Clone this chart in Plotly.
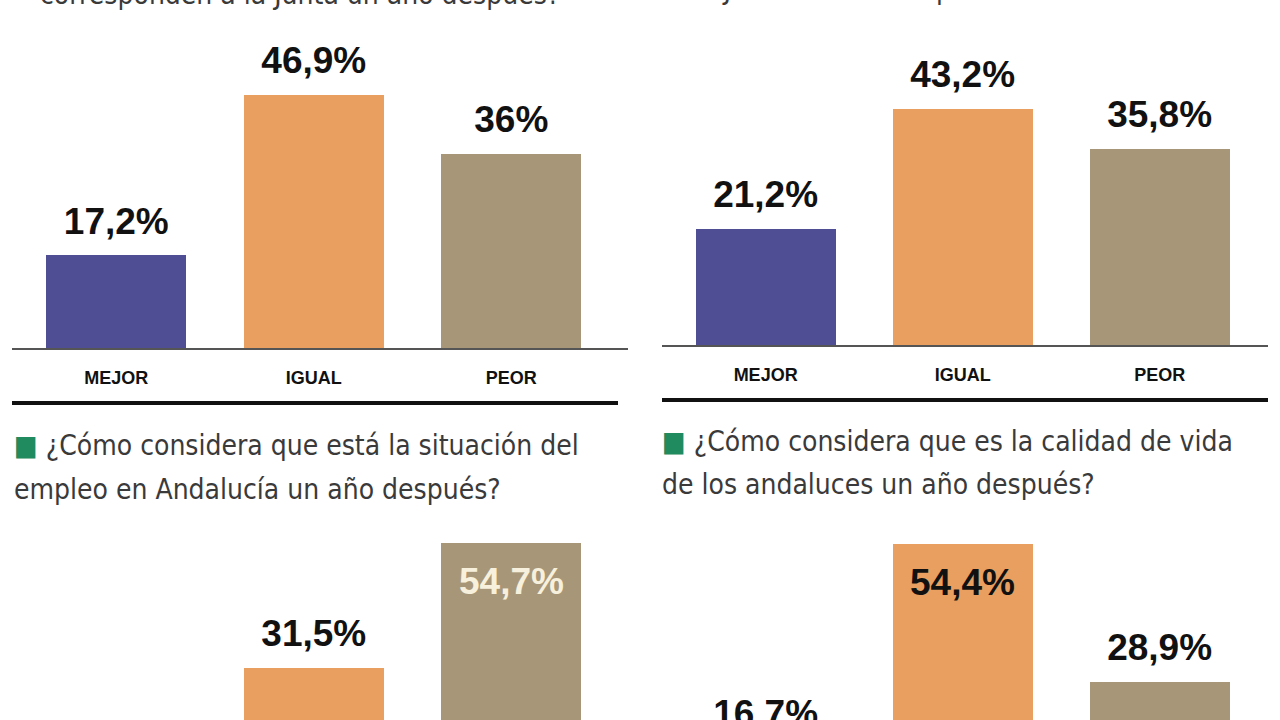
import plotly.graph_objects as go

# ---------------- data ----------------
categories = ["MEJOR", "IGUAL", "PEOR"]
values_tl = [17.2, 46.9, 36.0]     # servicios que corresponden a la Junta
values_tr = [21.2, 43.2, 35.8]
values_bl = [13.8, 31.5, 54.7]     # situación del empleo
values_br = [16.7, 54.4, 28.9]     # calidad de vida
labels_tl = ["17,2%", "46,9%", "36%"]
labels_tr = ["21,2%", "43,2%", "35,8%"]
labels_bl = ["13,8%", "31,5%", "54,7%"]
labels_br = ["16,7%", "54,4%", "28,9%"]

title_tl_tail = "corresponden a la Junta un año después?"
title_tr_tail = "a la Junta un año después?"
title_bl = ["¿Cómo considera que está la situación del", "empleo en Andalucía un año después?"]
title_br = ["¿Cómo considera que es la calidad de vida", "de los andaluces un año después?"]

# ---------------- style ----------------
W, H = 1280, 720
bar_colors = ["#4f4e94", "#e89f5f", "#a89678"]
label_pos_tl = ["out", "out", "out"]
label_pos_tr = ["out", "out", "out"]
label_pos_bl = ["out", "out", "in"]
label_pos_br = ["out", "in", "out"]
inside_colors_bl = ["#111", "#111", "#f6f0dc"]
inside_colors_br = ["#111", "#111", "#111"]

VAL_FONT = "Liberation Sans, Arial, sans-serif"
CAT_FONT = "Liberation Sans, Arial, sans-serif"
TTL_FONT = "DejaVu Sans Condensed, Liberation Sans Narrow, Arial Narrow, sans-serif"
VAL_SIZE = 37
LABEL_GAP_PX = 31          # distance from bar top to label centre
INSIDE_SHIFT_PX = -16

scale_l, scale_r, scale_br = 5.39, 5.47, 5.41   # pixels per percentage point
base_bottom = 838  # pixel row of the (off-screen) baseline of the lower charts
xr_l = [-0.528, 2.591]
xr_r = [-0.526, 2.55]


def px(x):
    return x / W


def py(y):
    return 1 - y / H


fig = go.Figure()

panels = [
    ("x", "y", values_tl, labels_tl, label_pos_tl, None, scale_l),
    ("x2", "y2", values_tr, labels_tr, label_pos_tr, None, scale_r),
    ("x3", "y3", values_bl, labels_bl, label_pos_bl, inside_colors_bl, scale_l),
    ("x4", "y4", values_br, labels_br, label_pos_br, inside_colors_br, scale_br),
]

annotations = []
for xa, ya, vals, labs, pos, inc, sc in panels:
    fig.add_trace(go.Bar(
        x=categories, y=vals, xaxis=xa, yaxis=ya,
        marker=dict(color=bar_colors, line=dict(width=0)),
        width=0.71, hoverinfo="skip", showlegend=False,
    ))
    out_idx = [i for i, p in enumerate(pos) if p == "out"]
    # labels above the bars, centred a fixed pixel gap above each bar top
    fig.add_trace(go.Scatter(
        x=[categories[i] for i in out_idx],
        y=[vals[i] + LABEL_GAP_PX / sc for i in out_idx],
        text=[labs[i] for i in out_idx], mode="text", textposition="middle center",
        textfont=dict(family=VAL_FONT, size=VAL_SIZE, color="#111111", weight="bold"),
        cliponaxis=False, xaxis=xa, yaxis=ya, hoverinfo="skip", showlegend=False,
    ))
    for i, (c, v, t, p) in enumerate(zip(categories, vals, labs, pos)):
        if p == "in":
            annotations.append(dict(
                x=c, y=v, xref=xa, yref=ya, text=t, showarrow=False,
                yanchor="top", yshift=INSIDE_SHIFT_PX,
                font=dict(family=VAL_FONT, size=VAL_SIZE, color=inc[i], weight="bold"),
            ))

# titles
TTL_SIZE = 28
TTL_COLOR = "#3a3a3a"
SQ = "<span style='color:#1f8b5e'>■</span> "
annotations += [
    dict(x=px(38), y=py(13), xref="paper", yref="paper", text=title_tl_tail,
         xanchor="left", yanchor="bottom", showarrow=False,
         font=dict(family=TTL_FONT, size=TTL_SIZE, color=TTL_COLOR)),
    dict(x=px(668), y=py(8), xref="paper", yref="paper", text=title_tr_tail,
         xanchor="left", yanchor="bottom", showarrow=False,
         font=dict(family=TTL_FONT, size=TTL_SIZE, color=TTL_COLOR)),
    dict(x=px(12), y=py(445), xref="paper", yref="paper", text=SQ + title_bl[0],
         xanchor="left", yanchor="middle", showarrow=False,
         font=dict(family=TTL_FONT, size=TTL_SIZE, color=TTL_COLOR)),
    dict(x=px(12), y=py(489), xref="paper", yref="paper", text=title_bl[1],
         xanchor="left", yanchor="middle", showarrow=False,
         font=dict(family=TTL_FONT, size=TTL_SIZE, color=TTL_COLOR)),
    dict(x=px(660), y=py(441), xref="paper", yref="paper", text=SQ + title_br[0],
         xanchor="left", yanchor="middle", showarrow=False,
         font=dict(family=TTL_FONT, size=TTL_SIZE, color=TTL_COLOR)),
    dict(x=px(660), y=py(484), xref="paper", yref="paper", text=title_br[1],
         xanchor="left", yanchor="middle", showarrow=False,
         font=dict(family=TTL_FONT, size=TTL_SIZE, color=TTL_COLOR)),
]

# separator rules
shapes = [
    dict(type="line", xref="paper", yref="paper", x0=px(12), x1=px(618), y0=py(403), y1=py(403),
         line=dict(color="#111111", width=4)),
    dict(type="line", xref="paper", yref="paper", x0=px(662), x1=px(1268), y0=py(400), y1=py(400),
         line=dict(color="#111111", width=4)),
]

cat_tick_font = dict(family=CAT_FONT, size=18, color="#111111", weight="bold")

common_x = dict(type="category", showgrid=False, zeroline=False, ticks="",
                fixedrange=True)
common_y = dict(showgrid=False, zeroline=False, showticklabels=False, ticks="",
                showline=False, fixedrange=True)

fig.update_layout(
    width=W, height=H,
    margin=dict(l=0, r=0, t=0, b=0),
    paper_bgcolor="white", plot_bgcolor="white",
    bargap=0,
    xaxis=dict(common_x, domain=[px(12), px(628)], range=xr_l, anchor="y",
               showline=True, linecolor="#555555", linewidth=2,
               tickfont=cat_tick_font, ticklabelstandoff=12),
    yaxis=dict(common_y, domain=[py(348), 1], range=[0, 348 / scale_l], anchor="x"),
    xaxis2=dict(common_x, domain=[px(662), px(1268)], range=xr_r, anchor="y2",
                showline=True, linecolor="#555555", linewidth=2,
                tickfont=cat_tick_font, ticklabelstandoff=12),
    yaxis2=dict(common_y, domain=[py(345), 1], range=[0, 345 / scale_r], anchor="x2"),
    xaxis3=dict(common_x, domain=[px(12), px(628)], range=xr_l, anchor="y3",
                showline=False, showticklabels=False),
    yaxis3=dict(common_y, domain=[0, py(520)],
                range=[(base_bottom - 720) / scale_l, (base_bottom - 520) / scale_l], anchor="x3"),
    xaxis4=dict(common_x, domain=[px(662), px(1268)], range=xr_r, anchor="y4",
                showline=False, showticklabels=False),
    yaxis4=dict(common_y, domain=[0, py(520)],
                range=[(base_bottom - 720) / scale_br, (base_bottom - 520) / scale_br], anchor="x4"),
    annotations=annotations,
    shapes=shapes,
)

fig.write_html("out.html", config={"displayModeBar": False})
